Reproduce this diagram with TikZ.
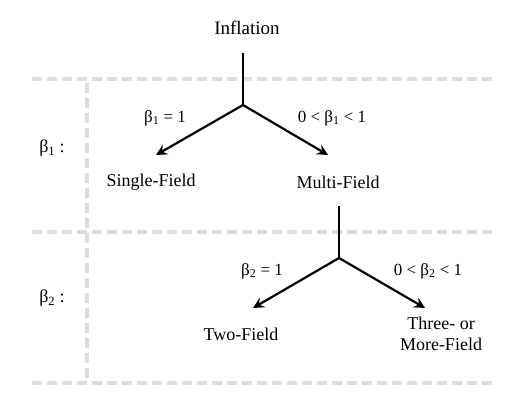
\documentclass[tikz,border=0pt]{standalone}
\usepackage{fontspec}
\setmainfont{Liberation Serif}
\usepackage{tikz}
\usetikzlibrary{arrows.meta}
\definecolor{gridgray}{HTML}{DCDCDC}

\begin{document}
\begin{tikzpicture}[x=1pt,y=-1pt,
  lbl/.style={inner sep=1pt,font=\fontsize{18}{21}\selectfont,align=center},
  cond/.style={inner sep=1pt,font=\fontsize{17}{20}\selectfont},
  sep/.style={draw=gridgray,line width=3.2pt,dash pattern=on 10pt off 5pt},
  stem/.style={line width=2.2pt},
  arr/.style={-{Stealth[length=11pt,width=11pt,inset=4pt]},line width=2.2pt}
]
  \useasboundingbox (0,0) rectangle (529,409);

  % separators
  \draw[sep] (32,79) -- (492,79);
  \draw[sep] (32,232) -- (492,232);
  \draw[sep] (32,383) -- (492,383);
  \draw[sep] (87,83) -- (87,378);

  % level labels
  \node[lbl] (lvla) at (52,148) {β\textsubscript{1} :};
  \node[lbl] (lvlb) at (52,298) {β\textsubscript{2} :};

  % first split
  \node[lbl,font=\fontsize{19}{22}\selectfont] (inf) at (247,28) {Inflation};
  \coordinate (topa) at (243,53);
  \coordinate (fork1) at (243,105);
  \coordinate (tipsf) at (156,155);
  \coordinate (tipmf) at (328,155);
  \node[lbl] (sf) at (151,182) {Single-Field};
  \node[lbl] (mf) at (338,182) {Multi-Field};
  \draw[stem] (topa) -- (fork1);
  \draw[arr] (fork1) -- (tipsf);
  \draw[arr] (fork1) -- (tipmf);
  \node[cond] (ca) at (165,118) {β\textsubscript{1} = 1};
  \node[cond] (cb) at (332,118) {0 < β\textsubscript{1} < 1};

  % second split
  \coordinate (topb) at (339,206);
  \coordinate (fork2) at (339,258);
  \coordinate (tiptf) at (253,308);
  \coordinate (tipmr) at (425,308);
  \node[lbl] (tf) at (241,334) {Two-Field};
  \node[lbl] (mr) at (441,334) {Three- or\\More-Field};
  \draw[stem] (topb) -- (fork2);
  \draw[arr] (fork2) -- (tiptf);
  \draw[arr] (fork2) -- (tipmr);
  \node[cond] (cc) at (262,271) {β\textsubscript{2} = 1};
  \node[cond] (cd) at (428,271) {0 < β\textsubscript{2} < 1};
\end{tikzpicture}
\end{document}
